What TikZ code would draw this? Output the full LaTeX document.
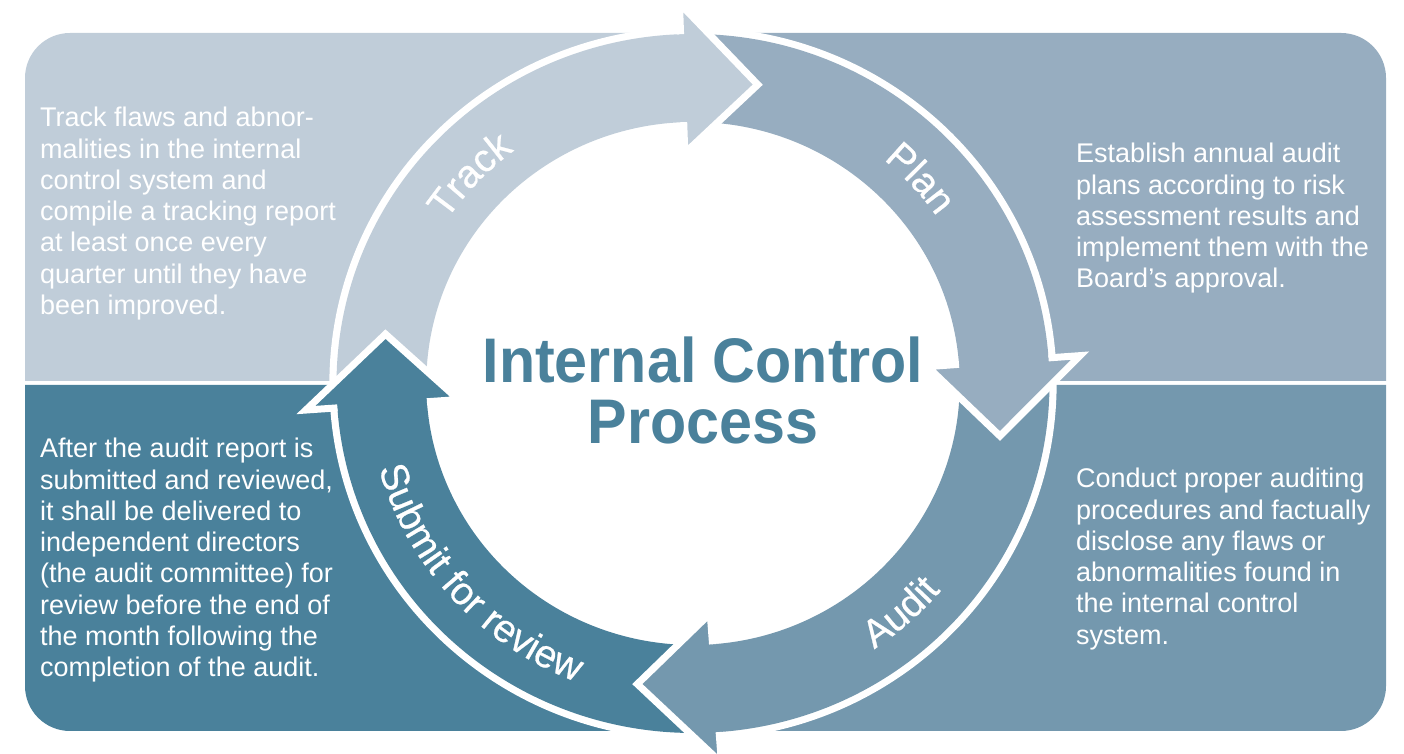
\documentclass[tikz,border=0pt]{standalone}
\usepackage{fontspec}
\setmainfont{Liberation Sans}
\newfontfamily\titlefont[FakeStretch=0.94]{Liberation Sans}
\newfontfamily\ringfam[FakeBold=0.6]{Liberation Sans}
\usetikzlibrary{decorations.text}
\definecolor{trackcol}{RGB}{192,205,217}
\definecolor{plancol}{RGB}{151,173,192}
\definecolor{auditcol}{RGB}{116,152,174}
\definecolor{submitcol}{RGB}{74,129,155}
\newcommand{\bodyfont}{\fontsize{27}{31.3}\selectfont}
\newcommand{\ringfont}{\ringfam\fontsize{39}{42}\selectfont}
\tikzset{
  panel/.style={rounded corners=45},
  info/.style={anchor=north west, inner sep=0pt, text=white, font=\bodyfont, align=left},
  headline/.style={white, line width=7pt, line join=miter},
  ringlabel/.style={decorate, decoration={text along path, text align=center,
      text={|\color{white}\ringfont|#1}}}
}

\begin{document}
\begin{tikzpicture}[x=1pt,y=1pt]
  \useasboundingbox (0,0) rectangle (1404,754);
  \clip (0,0) rectangle (1404,754);
  % the four panels
  \fill[trackcol] (25,373) [panel] -- (25,721) -- (693,721) -- (693,373) [sharp corners] -- cycle;
  \fill[plancol] (1386,373) [panel] -- (1386,721) -- (693,721) -- (693,373) [sharp corners] -- cycle;
  \fill[auditcol] (1386,369) [panel] -- (1386,23) -- (693,23) -- (693,369) [sharp corners] -- cycle;
  \fill[submitcol] (25,369) [panel] -- (25,23) -- (693,23) -- (693,369) [sharp corners] -- cycle;

  % the ring of arrows
  \begin{scope}[shift={(693,370.5)}, x=1.02pt, y=1pt]
    \fill[white] (0,0) circle (356.5);
    % bodies
    \fill[trackcol] (183:349.5) arc[start angle=183, end angle=91, radius=349.5]
      -- (91:261.5) arc[start angle=91, end angle=183, radius=261.5] -- cycle;
    \fill[plancol] (91:349.5) arc[start angle=91, end angle=3.2, radius=349.5]
      -- (3.2:261.5) arc[start angle=3.2, end angle=91, radius=261.5] -- cycle;
    \fill[auditcol] (3.2:349.5) arc[start angle=3.2, end angle=-86.8, radius=349.5]
      -- (-86.8:261.5) arc[start angle=-86.8, end angle=3.2, radius=261.5] -- cycle;
    \fill[submitcol] (-86.8:349.5) arc[start angle=-86.8, end angle=-177, radius=349.5]
      -- (-177:261.5) arc[start angle=-177, end angle=-86.8, radius=261.5] -- cycle;
    % heads
    \fill[trackcol] (92:230.5) -- (78:305.5) -- (92:380.5) -- cycle;
    \draw[headline] (92:261.5) -- (92:230.5) -- (78:305.5) -- (92:380.5) -- (92:349.5);
    \fill[plancol] (4.2:230.5) -- (-9.9:305.5) -- (4.2:380.5) -- cycle;
    \draw[headline] (4.2:261.5) -- (4.2:230.5) -- (-9.9:305.5) -- (4.2:380.5) -- (4.2:349.5);
    \fill[auditcol] (-85.8:230.5) -- (-100.3:305.5) -- (-85.8:380.5) -- cycle;
    \draw[headline] (-85.8:261.5) -- (-85.8:230.5) -- (-100.3:305.5) -- (-85.8:380.5) -- (-85.8:349.5);
    \fill[submitcol] (-176:230.5) -- (-189.3:305.5) -- (-176:380.5) -- cycle;
    \draw[headline] (-176:261.5) -- (-176:230.5) -- (-189.3:305.5) -- (-176:380.5) -- (-176:349.5);
    % labels on the ring
    \path[ringlabel=Track] (156.5:291.5) arc[start angle=156.5, end angle=116.5, radius=291.5];
    \path[ringlabel=Plan] (62.5:291.5) arc[start angle=62.5, end angle=22.5, radius=291.5];
    \path[ringlabel=Audit] (-68.3:319.5) arc[start angle=-68.3, end angle=-28.3, radius=319.5];
    \path[ringlabel={Submit for review}] (172:319.5) arc[start angle=172, end angle=272, radius=319.5];
  \end{scope}

  \node[inner sep=0pt, align=center, text=submitcol,
    font=\titlefont\bfseries\fontsize{63}{61}\selectfont] (title) at (703,363.5)
    {Internal Control\\Process};

  \node[info] (trackinfo) at (40,647) {Track flaws and abnor-\\malities in the internal\\control system and\\compile a tracking report\\at least once every\\quarter until they have\\been improved.};
  \node[info] (planinfo) at (1076,611) {Establish annual audit\\plans according to risk\\assessment results and\\implement them with the\\Board’s approval.};
  \node[info] (auditinfo) at (1076,286) {Conduct proper auditing\\procedures and factually\\disclose any flaws or\\abnormalities found in\\the internal control\\system.};
  \node[info] (submitinfo) at (40,316) {After the audit report is\\submitted and reviewed,\\it shall be delivered to\\independent directors\\(the audit committee) for\\review before the end of\\the month following the\\completion of the audit.};
\end{tikzpicture}
\end{document}
